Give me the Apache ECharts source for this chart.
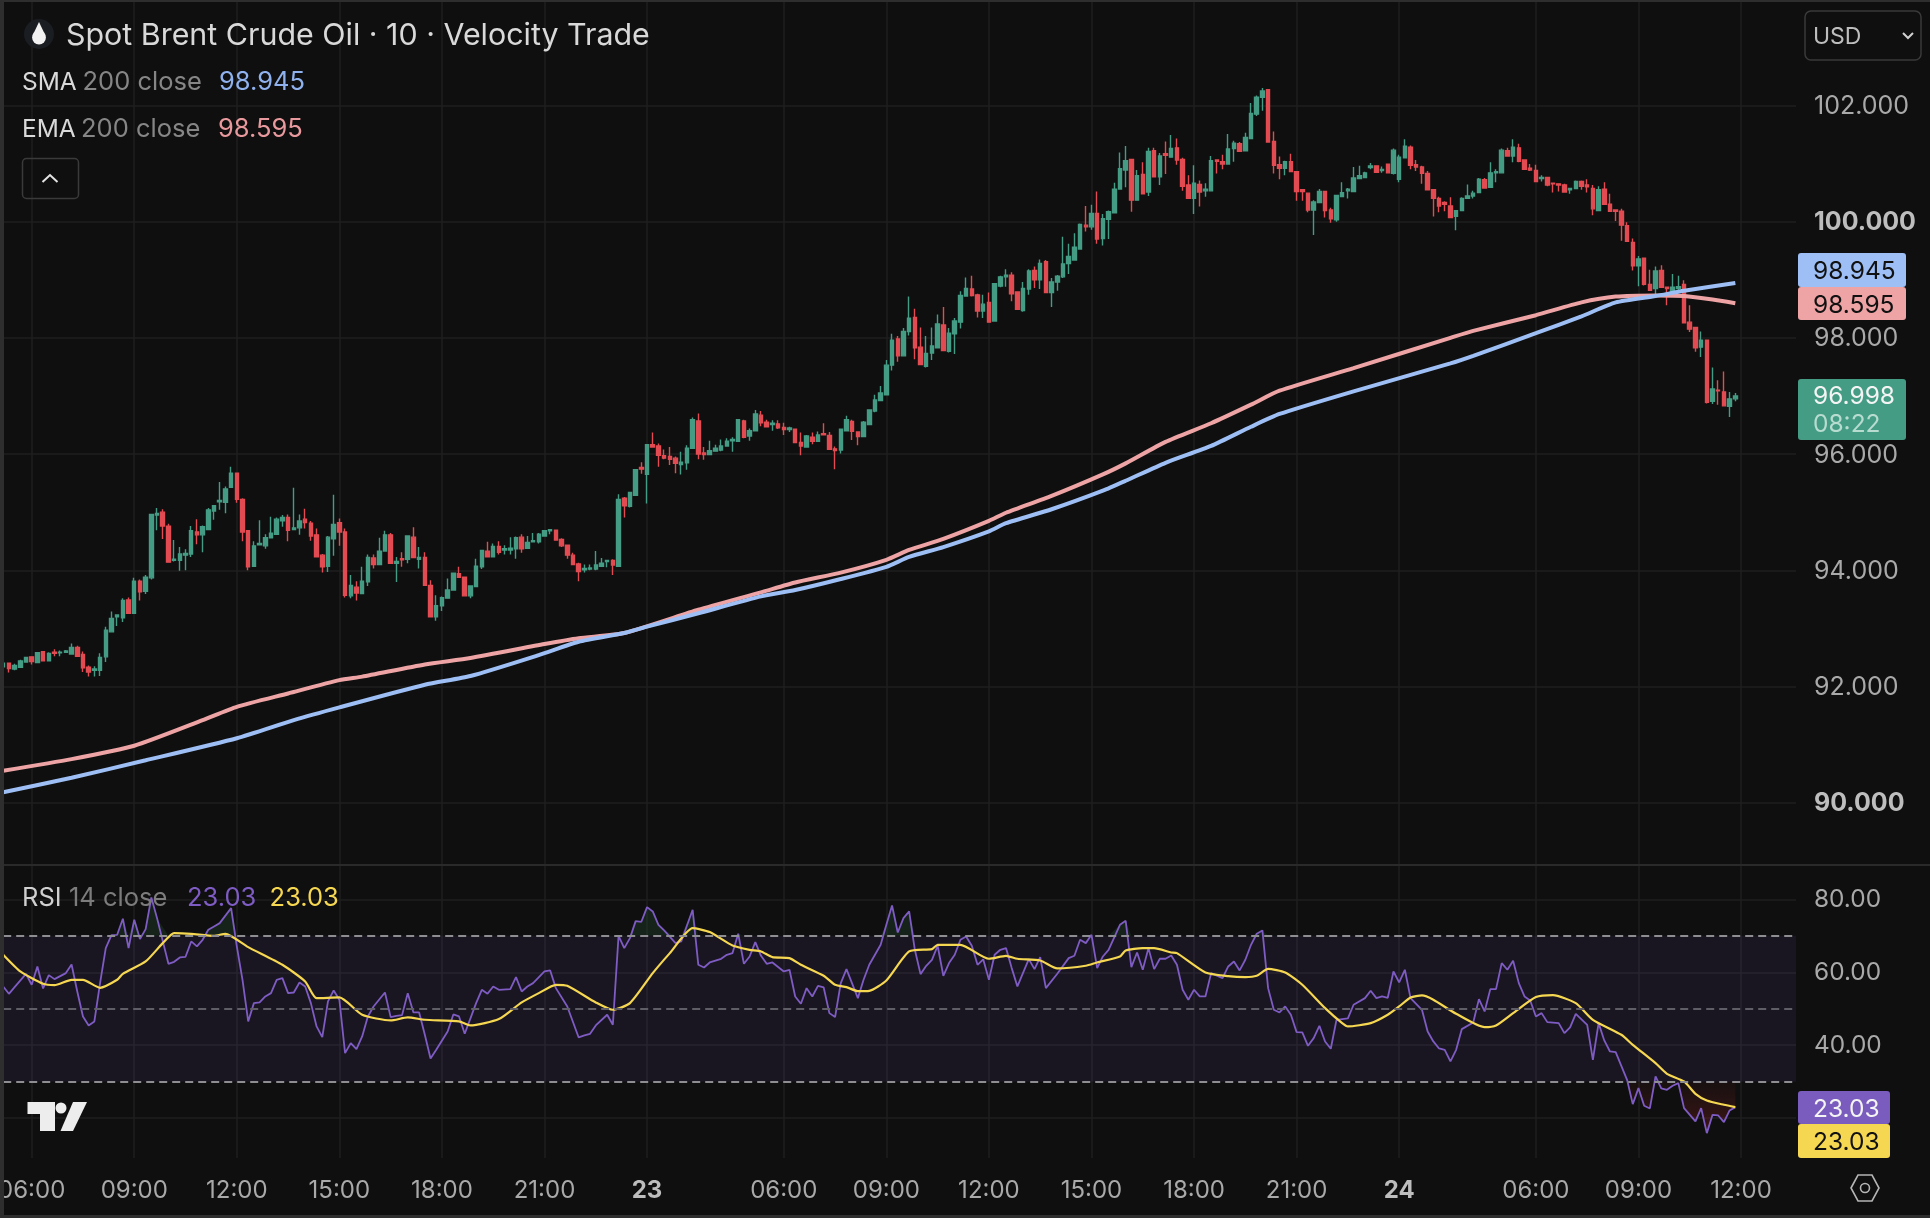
<!DOCTYPE html>
<html>
<head>
<meta charset="utf-8">
<title>Spot Brent Crude Oil</title>
<script src="https://cdn.jsdelivr.net/npm/echarts@6/dist/echarts.min.js"></script>
<style>html,body{margin:0;padding:0;background:#0f0f0f}#chart{width:1930px;height:1218px}</style>
</head>
<body>
<div id="chart"></div>
<script>
// Ten-minute candles, rows of open, close, low, high
const ohlc = [
[92.34,92.40,92.34,92.40],[92.40,92.31,92.24,92.40],[92.30,92.36,92.28,92.39],[92.33,92.44,92.32,92.46],[92.42,92.50,92.42,92.50],
[92.51,92.43,92.38,92.52],[92.41,92.58,92.41,92.59],[92.60,92.44,92.44,92.60],[92.44,92.57,92.44,92.59],[92.59,92.57,92.52,92.64],
[92.58,92.59,92.52,92.62],[92.59,92.61,92.58,92.63],[92.56,92.67,92.56,92.74],[92.67,92.52,92.51,92.70],[92.55,92.32,92.25,92.60],
[92.33,92.25,92.17,92.36],[92.28,92.30,92.17,92.35],[92.28,92.50,92.18,92.57],[92.51,92.97,92.42,93.03],[92.94,93.17,92.94,93.29],
[93.20,93.23,93.04,93.24],[93.18,93.48,93.11,93.52],[93.49,93.26,93.26,93.53],[93.26,93.81,93.26,93.87],[93.81,93.63,93.48,93.84],
[93.64,93.88,93.59,93.92],[93.87,94.96,93.84,94.96],[94.95,94.98,94.69,95.07],[95.00,94.76,94.54,95.05],[94.76,94.14,94.13,94.80],
[94.17,94.19,94.15,94.52],[94.17,94.28,93.99,94.40],[94.26,94.29,94.00,94.36],[94.28,94.68,94.23,94.76],[94.66,94.61,94.45,94.88],
[94.61,94.75,94.31,94.77],[94.70,95.04,94.70,95.07],[95.02,95.11,94.87,95.12],[95.18,95.20,95.04,95.52],[95.17,95.40,94.98,95.44],
[95.43,95.67,95.43,95.78],[95.67,95.22,95.16,95.67],[95.22,94.66,94.50,95.24],[94.68,94.06,94.00,94.68],[94.07,94.42,94.06,94.50],
[94.44,94.46,94.43,94.86],[94.42,94.56,94.37,94.62],[94.56,94.64,94.56,94.92],[94.62,94.88,94.62,94.91],[94.85,94.91,94.75,94.95],
[94.91,94.69,94.50,94.96],[94.70,94.73,94.69,95.42],[94.73,94.85,94.61,94.96],[94.88,94.82,94.72,95.06],[94.81,94.59,94.51,94.85],
[94.61,94.23,94.23,94.72],[94.26,94.06,93.96,94.28],[94.07,94.57,93.97,94.59],[94.54,94.79,94.25,95.30],[94.82,94.66,94.42,94.89],
[94.66,93.57,93.53,94.72],[93.56,93.74,93.52,93.92],[93.71,93.61,93.48,93.81],[93.60,93.81,93.60,94.06],[93.80,94.22,93.73,94.27],
[94.21,94.10,94.03,94.27],[94.10,94.33,94.10,94.56],[94.33,94.61,94.33,94.68],[94.61,94.12,94.12,94.64],[94.12,94.15,93.80,94.23],
[94.20,94.18,94.06,94.31],[94.19,94.59,94.12,94.59],[94.57,94.22,94.22,94.74],[94.19,94.22,94.03,94.40],[94.22,93.74,93.74,94.31],
[93.74,93.20,93.20,93.83],[93.20,93.39,93.13,93.57],[93.39,93.53,93.30,93.55],[93.52,93.66,93.52,93.86],[93.66,93.95,93.66,93.96],
[93.94,93.88,93.88,94.06],[93.88,93.56,93.56,93.89],[93.56,93.73,93.52,93.74],[93.72,94.07,93.72,94.20],[94.06,94.34,94.02,94.35],
[94.33,94.23,94.22,94.49],[94.23,94.41,94.22,94.46],[94.41,94.31,94.27,94.50],[94.35,94.37,94.27,94.43],[94.35,94.38,94.27,94.57],
[94.37,94.56,94.20,94.58],[94.57,94.37,94.30,94.62],[94.38,94.48,94.38,94.59],[94.49,94.51,94.48,94.64],[94.49,94.62,94.46,94.64],
[94.59,94.68,94.59,94.69],[94.68,94.70,94.62,94.71],[94.69,94.52,94.52,94.69],[94.53,94.42,94.40,94.55],[94.43,94.26,94.20,94.43],
[94.26,94.10,94.10,94.30],[94.11,93.98,93.81,94.13],[94.01,94.03,93.96,94.10],[94.02,94.04,94.00,94.10],[94.02,94.09,94.00,94.33],
[94.07,94.12,94.06,94.21],[94.15,94.17,94.05,94.18],[94.17,94.09,93.92,94.19],[94.07,95.22,94.06,95.31],[95.24,95.11,94.91,95.26],
[95.10,95.34,95.08,95.34],[95.29,95.73,95.29,95.74],[95.77,95.74,95.66,95.86],[95.65,96.16,95.15,96.16],[96.16,96.12,96.12,96.37],
[96.14,95.98,95.78,96.18],[95.97,95.93,95.91,96.08],[95.96,95.91,95.81,96.12],[95.93,95.84,95.67,95.96],[95.82,95.86,95.65,96.04],
[95.85,96.10,95.73,96.15],[96.10,96.59,96.10,96.63],[96.57,96.00,95.91,96.70],[96.02,95.99,95.90,96.12],[95.99,96.06,95.99,96.23],
[96.05,96.10,96.05,96.16],[96.07,96.14,96.05,96.25],[96.14,96.22,96.14,96.27],[96.23,96.25,96.04,96.29],[96.22,96.59,96.22,96.59],
[96.57,96.29,96.27,96.59],[96.31,96.40,96.23,96.44],[96.40,96.69,96.40,96.76],[96.67,96.54,96.48,96.74],[96.55,96.47,96.47,96.59],
[96.51,96.53,96.40,96.58],[96.52,96.45,96.43,96.58],[96.46,96.42,96.33,96.54],[96.42,96.45,96.38,96.47],[96.43,96.20,96.19,96.43],
[96.20,96.14,95.98,96.37],[96.12,96.31,96.12,96.33],[96.29,96.22,96.17,96.37],[96.22,96.33,96.22,96.39],[96.35,96.33,96.32,96.53],
[96.32,96.08,96.08,96.38],[96.09,96.06,95.74,96.13],[96.07,96.43,96.01,96.43],[96.40,96.59,96.39,96.66],[96.56,96.39,96.24,96.59],
[96.38,96.30,96.15,96.38],[96.30,96.55,96.29,96.57],[96.51,96.76,96.51,96.76],[96.74,96.93,96.72,97.02],[96.92,97.05,96.92,97.17],
[97.02,97.53,97.02,97.62],[97.53,97.96,97.44,98.07],[97.98,97.69,97.59,98.03],[97.69,98.11,97.69,98.17],[98.11,98.34,98.04,98.71],
[98.35,97.83,97.63,98.50],[97.84,97.54,97.54,98.18],[97.51,97.73,97.49,98.03],[97.74,97.86,97.62,98.18],[97.83,98.24,97.83,98.40],
[98.22,97.78,97.78,98.53],[97.77,98.08,97.75,98.17],[98.07,98.29,97.72,98.34],[98.27,98.73,98.16,98.80],[98.72,98.85,98.71,99.04],
[98.84,98.73,98.71,99.07],[98.74,98.46,98.35,98.76],[98.46,98.58,98.34,98.74],[98.61,98.27,98.27,98.78],[98.29,98.93,98.29,98.93],
[98.89,99.05,98.87,99.07],[99.05,99.08,98.88,99.18],[99.08,98.76,98.63,99.13],[98.79,98.49,98.49,98.80],[98.47,98.85,98.45,98.96],
[98.84,99.15,98.74,99.18],[99.16,99.00,98.86,99.23],[99.00,99.28,98.84,99.35],[99.31,98.78,98.78,99.34],[98.78,98.96,98.53,99.03],
[98.96,99.06,98.81,99.08],[99.05,99.27,99.03,99.74],[99.28,99.40,99.10,99.62],[99.34,99.56,99.34,99.80],[99.53,99.95,99.53,99.97],
[99.94,99.91,99.83,100.27],[99.91,100.14,99.86,100.29],[100.14,99.70,99.62,100.52],[99.71,100.05,99.59,100.13],[100.04,100.17,99.70,100.19],
[100.15,100.56,100.15,100.67],[100.56,100.91,100.56,101.19],[100.89,101.05,100.59,101.30],[101.07,100.37,100.17,101.07],[100.37,100.79,100.36,100.89],
[100.81,100.48,100.47,101.02],[100.51,101.21,100.44,101.27],[101.22,100.77,100.77,101.27],[100.77,101.13,100.63,101.18],[101.17,101.14,100.82,101.38],
[101.11,101.26,101.11,101.49],[101.27,101.06,100.98,101.43],[101.07,100.61,100.53,101.10],[100.63,100.40,100.40,100.80],[100.40,100.66,100.13,100.97],
[100.64,100.51,100.26,100.71],[100.53,100.56,100.43,100.66],[100.53,101.05,100.53,101.13],[101.06,101.04,100.83,101.07],[101.03,100.99,100.90,101.15],
[100.99,101.25,100.99,101.51],[101.26,101.35,101.03,101.39],[101.34,101.21,101.21,101.37],[101.22,101.45,101.22,101.53],[101.43,101.86,101.43,102.04],
[101.85,102.14,101.82,102.17],[102.14,102.25,101.91,102.30],[102.27,101.37,101.36,102.27],[101.38,100.97,100.83,101.55],[100.98,100.92,100.73,101.12],
[100.92,101.03,100.80,101.05],[101.03,100.86,100.86,101.17],[100.86,100.52,100.36,100.87],[100.55,100.52,100.36,100.56],[100.49,100.20,100.16,100.50],
[100.20,100.34,99.77,100.37],[100.33,100.52,100.32,100.56],[100.52,100.19,100.07,100.52],[100.20,100.05,99.98,100.24],[100.03,100.45,100.00,100.45],
[100.43,100.50,100.42,100.68],[100.53,100.56,100.40,100.58],[100.52,100.75,100.52,100.94],[100.74,100.79,100.73,100.96],[100.76,100.84,100.76,100.86],
[100.93,100.96,100.90,101.01],[100.96,100.85,100.85,100.96],[100.88,100.90,100.84,100.95],[100.99,100.84,100.83,100.99],[100.83,101.23,100.81,101.26],
[100.73,101.11,100.68,101.15],[101.10,101.30,101.10,101.42],[101.28,100.97,100.90,101.31],[100.98,100.94,100.87,101.06],[100.94,100.83,100.65,100.96],
[100.83,100.55,100.55,100.87],[100.55,100.40,100.09,100.55],[100.40,100.27,100.16,100.43],[100.33,100.30,100.18,100.35],[100.27,100.07,100.07,100.42],
[100.09,100.19,99.85,100.20],[100.19,100.40,100.19,100.42],[100.40,100.44,100.40,100.64],[100.44,100.49,100.40,100.53],[100.50,100.73,100.50,100.75],
[100.72,100.58,100.58,100.75],[100.59,100.84,100.59,101.02],[100.84,100.86,100.68,100.90],[100.84,101.23,100.84,101.26],[101.22,101.13,101.13,101.27],
[101.13,101.28,101.02,101.42],[101.27,101.04,101.02,101.34],[101.06,100.90,100.90,101.06],[100.92,100.89,100.87,100.99],[100.88,100.69,100.68,100.98],
[100.74,100.76,100.69,100.80],[100.76,100.63,100.61,100.77],[100.66,100.65,100.50,100.67],[100.65,100.63,100.52,100.66],[100.63,100.51,100.50,100.65],
[100.55,100.57,100.48,100.58],[100.57,100.69,100.56,100.71],[100.69,100.61,100.55,100.71],[100.63,100.60,100.50,100.73],[100.57,100.22,100.11,100.63],
[100.19,100.55,100.18,100.61],[100.56,100.30,100.30,100.68],[100.30,100.18,100.18,100.48],[100.20,100.18,100.01,100.21],[100.18,99.94,99.67,100.22],
[99.93,99.66,99.65,99.99],[99.64,99.24,99.16,99.71],[99.24,99.36,98.89,99.41],[99.37,98.92,98.90,99.37],[98.92,98.82,98.81,99.17],
[98.85,99.15,98.70,99.23],[99.16,98.87,98.86,99.25],[98.87,98.85,98.56,98.87],[98.79,98.87,98.79,99.10],[98.85,98.88,98.82,99.07],
[98.92,98.26,98.26,98.99],[98.27,98.15,98.10,98.56],[98.18,97.83,97.76,98.18],[97.84,97.96,97.67,98.11],[97.96,96.89,96.87,97.97],
[96.91,97.12,96.86,97.49],[97.10,97.09,96.85,97.27],[97.07,96.83,96.82,97.42],[96.82,96.95,96.64,97.07],[96.95,96.998,96.91,97.05]
];

// 200-period averages, sampled as [bar, value]
const smaPoints = [[0,90.18],[12,90.43],[25,90.73],[41,91.11],[51,91.42],[59,91.64],[74,92.03],[82,92.18],[94,92.54],[101,92.77],[109,92.92],[113,93.03],[122,93.26],[133,93.55],[139,93.66],[147,93.85],[155,94.06],[159,94.23],[165,94.40],[173,94.67],[176,94.81],[184,95.05],[193,95.37],[197,95.54],[204,95.85],[212,96.14],[219,96.47],[224,96.69],[237,97.08],[254,97.56],[258,97.69],[269,98.08],[277,98.37],[283,98.61],[290,98.72],[295,98.81],[304,98.945]];
const emaPoints = [[0,90.55],[12,90.75],[23,90.98],[35,91.42],[41,91.65],[50,91.88],[59,92.11],[63,92.17],[74,92.38],[82,92.49],[95,92.73],[101,92.83],[109,92.92],[122,93.32],[133,93.62],[139,93.79],[147,93.96],[155,94.18],[159,94.35],[165,94.54],[173,94.85],[176,94.99],[184,95.28],[193,95.65],[197,95.84],[204,96.21],[212,96.53],[219,96.85],[224,97.09],[237,97.48],[254,98.00],[258,98.12],[269,98.39],[277,98.61],[283,98.71],[290,98.73],[295,98.72],[300,98.66],[304,98.595]];

// RSI(14) turning points and its moving average, as [bar, value]
const rsiPoints = [[0,56.11],[1,54.10],[2,55.93],[4,59.58],[5,56.57],[6,61.59],[7,55.56],[8,59.22],[9,58.12],[11,59.77],[12,62.14],[13,54.74],[14,47.89],[15,45.42],[16,46.52],[17,57.03],[18,66.62],[19,70.18],[20,70.27],[21,74.66],[22,66.62],[23,74.39],[24,69.09],[25,71.83],[26,80.5],[27,74.84],[29,62.32],[30,62.87],[31,64.06],[32,64.24],[33,68.45],[34,67.08],[35,68.90],[36,71.64],[37,72.56],[38,73.47],[40,77.58],[41,67.08],[42,57.94],[43,46.52],[44,51.54],[45,51.73],[46,53.37],[47,54.28],[48,57.94],[49,58.40],[50,54.28],[51,54.46],[52,57.21],[53,56.11],[54,51.54],[55,45.15],[56,42.22],[57,52.00],[58,55.02],[59,52.46],[60,37.84],[61,40.58],[62,38.93],[63,42.41],[64,47.89],[65,50.63],[67,54.46],[68,47.71],[69,48.07],[70,48.25],[71,54.28],[72,48.98],[73,48.98],[74,42.86],[75,36.38],[76,38.75],[78,43.78],[79,48.44],[80,47.89],[81,43.14],[83,51.54],[84,55.2],[85,54.1],[86,56.11],[87,55.2],[89,55.38],[90,58.67],[91,54.74],[92,56.11],[93,57.03],[95,60.22],[96,60.5],[97,55.65],[99,50.63],[101,42.13],[102,42.68],[103,43.14],[104,45.42],[106,48.35],[107,45.6],[108,70.0],[109,66.62],[110,69.36],[111,74.02],[112,73.84],[113,77.86],[114,76.67],[115,73.02],[116,71.46],[118,67.99],[119,68.45],[121,77.13],[122,62.05],[123,61.32],[124,62.69],[126,63.7],[127,64.79],[128,65.25],[129,70.55],[130,62.32],[131,64.33],[132,68.26],[133,64.52],[134,62.32],[135,62.69],[137,60.22],[138,60.68],[139,53.37],[140,51.36],[141,55.65],[142,53.37],[143,56.29],[144,55.84],[145,48.8],[146,47.71],[147,57.03],[148,60.86],[150,52.91],[151,57.94],[152,62.05],[153,64.79],[154,67.53],[155,73.02],[156,78.31],[157,70.91],[158,74.84],[159,76.67],[160,66.16],[161,59.49],[162,61.78],[163,63.42],[164,67.26],[165,59.04],[166,62.51],[167,64.79],[168,68.9],[169,69.82],[170,67.26],[171,62.05],[172,63.55],[173,57.94],[174,64.79],[175,66.16],[176,66.62],[177,61.14],[178,56.11],[180,63.6],[181,60.86],[182,64.15],[183,55.65],[185,59.58],[187,63.88],[188,64.52],[189,68.9],[190,67.99],[191,70.27],[192,61.14],[193,64.33],[194,66.16],[196,73.02],[197,74.11],[198,61.41],[199,65.43],[200,60.68],[201,66.62],[202,60.86],[203,63.7],[204,63.7],[205,64.61],[206,62.05],[207,55.2],[208,52.46],[209,55.2],[210,53.37],[211,53.37],[212,59.77],[214,58.4],[215,61.59],[216,62.96],[217,60.5],[218,63.42],[219,67.53],[220,70.55],[221,71.46],[222,55.65],[223,49.72],[224,48.98],[225,50.63],[226,48.35],[227,43.6],[228,43.5],[229,39.85],[230,41.95],[231,45.33],[232,41.04],[233,39.03],[234,46.97],[236,47.34],[237,51.09],[239,52.91],[240,54.92],[241,52.91],[242,53.37],[243,53.0],[244,60.22],[245,57.21],[246,60.68],[247,52.91],[249,49.72],[250,43.78],[251,41.04],[252,39.12],[253,38.75],[254,35.55],[255,38.75],[256,44.42],[258,46.24],[259,52.64],[260,49.26],[261,55.38],[262,55.38],[263,62.51],[264,60.68],[265,63.15],[266,57.03],[267,53.37],[268,52.27],[269,47.89],[270,48.8],[271,46.33],[273,46.06],[274,43.32],[275,44.87],[276,48.62],[278,45.6],[279,36.01],[280,46.06],[281,41.31],[282,38.29],[283,38.11],[285,30.53],[286,23.86],[287,28.24],[288,23.4],[289,22.67],[290,31.44],[291,28.15],[292,27.79],[293,28.88],[294,29.62],[295,22.76],[297,19.11],[298,22.76],[299,15.91],[300,20.93],[301,20.75],[302,18.92],[303,22.12],[304,23.03]];
const rsiMaPoints = [[0,64.79],[3,60.22],[7,56.84],[9,56.48],[12,57.94],[14,57.94],[17,55.75],[20,57.94],[21,59.58],[25,62.96],[28,67.99],[30,70.73],[33,70.55],[37,70],[39,70.55],[43,66.89],[49,62.05],[53,57.48],[55,52.91],[59,53.1],[63,48.35],[68,46.79],[71,47.61],[74,46.98],[80,46.52],[82,45.42],[87,47.16],[91,51.73],[94,54.28],[97,56.57],[99,56.29],[104,51.73],[107,49.72],[110,51.54],[114,59.77],[117,65.25],[121,72.1],[124,71.01],[128,67.35],[131,66.16],[133,65.71],[135,64.15],[138,63.88],[140,62.05],[144,59.04],[146,56.57],[148,55.93],[150,54.83],[152,54.92],[155,57.76],[159,65.71],[163,66.35],[164,67.53],[168,67.53],[173,63.7],[176,64.52],[178,63.7],[182,63.24],[185,61.05],[190,61.78],[192,62.69],[196,64.33],[197,65.98],[200,66.62],[202,66.62],[205,65.43],[206,65.25],[211,59.95],[215,58.94],[218,58.67],[220,59.04],[222,60.95],[225,59.95],[228,56.57],[232,50.17],[235,46.06],[236,45.15],[240,46.06],[243,48.35],[245,50.63],[247,53.1],[249,53.64],[251,52.46],[255,48.62],[260,44.96],[262,45.42],[265,48.8],[269,53.19],[272,53.74],[276,51.54],[279,46.97],[284,42.86],[286,40.12],[290,35.1],[292,32.17],[295,30.07],[297,26.69],[299,24.86],[302,23.68],[304,23.03]];

// Axis scales and tick labels
const priceTicks = [90, 92, 94, 96, 98, 100, 102];
const boldPriceTicks = [90, 100];
const rsiGridTicks = [20, 40, 60, 80];
const rsiLabelTicks = [40, 60, 80];
const timeTickBars = [5, 23, 41, 59, 77, 95, 113, 137, 155, 173, 191, 209, 227, 245, 269, 287, 305];
const dayTicks = { 113: '23', 245: '24' };

// Bars run 02:00 to 24:00 each session; the first one is 05:10
const categories = [];
for (let i = 0, minutes = 310; i < 316; i++) {
  const h = Math.floor(minutes / 60), m = minutes % 60;
  categories.push(String(h).padStart(2, '0') + ':' + String(m).padStart(2, '0'));
  minutes = minutes + 10 >= 1440 ? 120 : minutes + 10;
}

const BG = '#0f0f0f', GRID = '#1f1f1f', UP = '#449c84', DOWN = '#e24b52';
const SMA = '#9dbff5', EMA = '#eea3a5', RSI = '#7e5cc4', RSI_MA = '#f6d752';
const FONT = 'Inter, "Noto Sans", sans-serif';
const isTimeTick = i => timeTickBars.includes(i);

const xAxisBase = {
  type: 'category', data: categories, boundaryGap: false,
  axisLine: { show: false }, axisTick: { show: false },
  splitLine: { show: true, interval: isTimeTick, lineStyle: { color: GRID, width: 1.5 } }
};

const chart = echarts.init(document.getElementById('chart'), null, { renderer: 'canvas' });

// y is the text baseline
function text(x, y, str, fill, size) {
  return { type: 'text', z: 50, silent: true,
    style: { x, y: y - 0.8 * size, text: str, fill, font: `${size}px ${FONT}` } };
}
function tag(x, y, w, h, fill) {
  return { type: 'rect', z: 40, silent: true, shape: { x, y, width: w, height: h, r: 3 }, style: { fill } };
}

chart.setOption({
  animation: false,
  backgroundColor: BG,
  // The 06:00 label runs off the left edge, so the grids must keep their exact rectangles
  grid: [
    { left: 3.2, width: 1794.8, top: 2, height: 862, outerBoundsMode: 'none' },
    { left: 3.2, width: 1794.8, top: 866, height: 292, outerBoundsMode: 'none' }
  ],
  xAxis: [
    Object.assign({}, xAxisBase, { gridIndex: 0, axisLabel: { show: false } }),
    Object.assign({}, xAxisBase, {
      gridIndex: 1,
      axisLabel: {
        show: true, interval: isTimeTick, margin: 21, hideOverlap: false,
        color: '#a9a9a9', fontFamily: FONT, fontSize: 24,
        formatter: (v, i) => dayTicks[i] ? '{d|' + dayTicks[i] + '}' : v,
        rich: { d: { fontFamily: FONT, fontSize: 24, fontWeight: 700, color: '#bdbdbd' } }
      }
    })
  ],
  yAxis: [
    {
      gridIndex: 0, type: 'value', position: 'right', min: 88.945, max: 103.78, scale: true,
      axisLine: { show: false },
      axisTick: { show: false, customValues: priceTicks },
      splitLine: { show: true, lineStyle: { color: GRID, width: 1.5 } },
      axisLabel: {
        customValues: priceTicks, margin: 16, color: '#a9a9a9', fontFamily: FONT, fontSize: 25, padding: [2, 0, 0, 0],
        formatter: v => boldPriceTicks.includes(v) ? '{b|' + v.toFixed(3) + '}' : v.toFixed(3),
        rich: { b: { fontFamily: FONT, fontSize: 25, fontWeight: 700, color: '#bdbdbd' } }
      }
    },
    {
      gridIndex: 1, type: 'value', position: 'right', min: 9.09, max: 89.13, scale: true,
      axisLine: { show: false },
      axisTick: { show: false, customValues: rsiGridTicks },
      splitLine: { show: true, lineStyle: { color: GRID, width: 1.5 } },
      axisLabel: {
        customValues: rsiLabelTicks, margin: 16, color: '#a9a9a9', fontFamily: FONT, fontSize: 24.4, padding: [2, 0, 0, 0],
        formatter: v => v.toFixed(2)
      }
    }
  ],
  series: [
    {
      type: 'candlestick', name: 'Brent', xAxisIndex: 0, yAxisIndex: 0, data: ohlc, barWidth: 4,
      itemStyle: { color: UP, color0: DOWN, borderColor: UP, borderColor0: DOWN, borderWidth: 1.4 }
    },
    { type: 'line', name: 'EMA 200', xAxisIndex: 0, yAxisIndex: 0, data: emaPoints, smooth: 0.2, symbol: 'none', lineStyle: { color: EMA, width: 4 } },
    { type: 'line', name: 'SMA 200', xAxisIndex: 0, yAxisIndex: 0, data: smaPoints, smooth: 0.2, symbol: 'none', lineStyle: { color: SMA, width: 4 } },
    {
      type: 'line', name: 'Overbought fill', xAxisIndex: 1, yAxisIndex: 1, symbol: 'none', z: 2,
      data: rsiPoints.map(([i, v]) => [i, Math.max(v, 70)]),
      lineStyle: { width: 0 },
      areaStyle: { origin: 70, color: 'rgba(38,78,52,0.45)' },
      markArea: {
        silent: true,
        itemStyle: { color: 'rgba(126,87,194,0.1)' },
        data: [[{ yAxis: 30 }, { yAxis: 70 }]]
      },
      markLine: {
        silent: true, symbol: 'none', label: { show: false },
        data: [
          { yAxis: 70, lineStyle: { color: '#8e8d92', type: [8, 5], width: 1.8 } },
          { yAxis: 50, lineStyle: { color: '#5f5e66', type: [8, 5], width: 1.8 } },
          { yAxis: 30, lineStyle: { color: '#8e8d92', type: [8, 5], width: 1.8 } }
        ]
      }
    },
    {
      type: 'line', name: 'Oversold fill', xAxisIndex: 1, yAxisIndex: 1, symbol: 'none', z: 2,
      data: rsiPoints.map(([i, v]) => [i, Math.min(v, 30)]),
      lineStyle: { width: 0 },
      areaStyle: {
        origin: 30,
        color: { type: 'linear', x: 0, y: 0, x2: 0, y2: 1, colorStops: [
          { offset: 0, color: 'rgba(120,30,30,0.12)' }, { offset: 1, color: 'rgba(130,30,30,0.6)' }
        ] }
      }
    },
    { type: 'line', name: 'RSI', xAxisIndex: 1, yAxisIndex: 1, data: rsiPoints, symbol: 'none', z: 3, lineStyle: { color: RSI, width: 1.8 } },
    { type: 'line', name: 'RSI MA', xAxisIndex: 1, yAxisIndex: 1, data: rsiMaPoints, smooth: 0.2, symbol: 'none', z: 4, lineStyle: { color: RSI_MA, width: 2.2 } }
  ],
  graphic: { elements: [
    // panel frame, pane divider and the gutter beside the price scale
    { type: 'rect', z: 25, silent: true, shape: { x: 1796, y: 2, width: 2, height: 1156 }, style: { fill: BG } },
    { type: 'rect', z: 30, silent: true, shape: { x: 0, y: 0, width: 1930, height: 2 }, style: { fill: '#2e2e2e' } },
    { type: 'rect', z: 30, silent: true, shape: { x: 0, y: 0, width: 4, height: 1218 }, style: { fill: '#2e2e2e' } },
    { type: 'rect', z: 30, silent: true, shape: { x: 0, y: 1215, width: 1930, height: 3 }, style: { fill: '#2e2e2e' } },
    { type: 'rect', z: 30, silent: true, shape: { x: 4, y: 864, width: 1926, height: 2 }, style: { fill: '#2a2a2a' } },

    // header
    { type: 'circle', z: 40, silent: true, shape: { cx: 39, cy: 34, r: 15 }, style: { fill: '#1a1d22' } },
    { type: 'polygon', z: 41, silent: true, shape: { points: [[39, 22], [32.8, 35], [45.2, 35]] }, style: { fill: '#f2f2f2' } },
    { type: 'circle', z: 41, silent: true, shape: { cx: 39, cy: 37.5, r: 6.9 }, style: { fill: '#f2f2f2' } },
    text(66, 45, 'Spot Brent Crude Oil · 10 · Velocity Trade', '#d9d9d9', 30.4),
    text(22, 90, 'SMA', '#d9d9d9', 24.5),
    text(82.5, 90, '200 close', '#868686', 25.5),
    text(219, 90, '98.945', '#8fb2ee', 25.5),
    text(22, 137, 'EMA', '#d9d9d9', 24.5),
    text(81, 137, '200 close', '#868686', 25.5),
    text(218, 137, '98.595', '#e8999d', 25.5),
    { type: 'rect', z: 40, silent: true, shape: { x: 22.5, y: 158.5, width: 56, height: 40, r: 4 }, style: { fill: 'none', stroke: '#3a3a3a', lineWidth: 1.5 } },
    { type: 'polyline', z: 41, silent: true, shape: { points: [[42.5, 182], [50, 175], [57.5, 182]] }, style: { fill: 'none', stroke: '#e4e4e4', lineWidth: 2 } },

    // currency selector
    { type: 'rect', z: 40, silent: true, shape: { x: 1805, y: 11, width: 116, height: 49, r: 6 }, style: { fill: BG, stroke: '#3a3a3a', lineWidth: 1.5 } },
    text(1813, 44, 'USD', '#bdbdbd', 23),
    { type: 'polyline', z: 41, silent: true, shape: { points: [[1903, 33], [1908, 38], [1913, 33]] }, style: { fill: 'none', stroke: '#d0d0d0', lineWidth: 2 } },

    // last-value tags on the price scale
    tag(1798, 253, 108, 34, SMA),
    tag(1798, 287, 108, 33, EMA),
    tag(1798, 379, 108, 61, UP),
    text(1813, 279, '98.945', '#111111', 24.5),
    text(1813, 312.5, '98.595', '#111111', 24.5),
    text(1813, 404, '96.998', '#f4f4f4', 24.5),
    text(1813, 432, '08:22', '#b8dcd0', 24.5),

    // last-value tags on the RSI scale
    tag(1798, 1091, 92, 33, '#7a5bbe'),
    tag(1798, 1124, 92, 34, RSI_MA),
    text(1813, 1117, '23.03', '#f4f4f4', 24.5),
    text(1813, 1150, '23.03', '#111111', 24.5),

    // RSI legend
    text(22, 906, 'RSI', '#d0d0d0', 25.5),
    text(69, 906, '14 close', '#7c7c7c', 25.5),
    text(187, 906, '23.03', RSI, 25.5),
    text(269.6, 906, '23.03', RSI_MA, 25.5),

    // watermark
    { type: 'polygon', z: 41, silent: true, shape: { points: [[27.5, 1102], [55, 1102], [55, 1131], [40, 1131], [40, 1114], [27.5, 1114]] }, style: { fill: '#ededed' } },
    { type: 'polygon', z: 41, silent: true, shape: { points: [[73, 1102], [87, 1102], [73, 1131], [60.5, 1131]] }, style: { fill: '#ededed' } },
    { type: 'circle', z: 41, silent: true, shape: { cx: 61, cy: 1108, r: 5.5 }, style: { fill: '#ededed' } },

    // settings cog
    { type: 'polygon', z: 41, silent: true, shape: { points: [[1851, 1188], [1858, 1175], [1872, 1175], [1879, 1188], [1872, 1201], [1858, 1201]] }, style: { fill: 'none', stroke: '#b5b5b5', lineWidth: 1.6 } },
    { type: 'circle', z: 41, silent: true, shape: { cx: 1865, cy: 1188, r: 4.5 }, style: { fill: 'none', stroke: '#b5b5b5', lineWidth: 1.6 } }
  ] }
});
</script>
</body>
</html>
